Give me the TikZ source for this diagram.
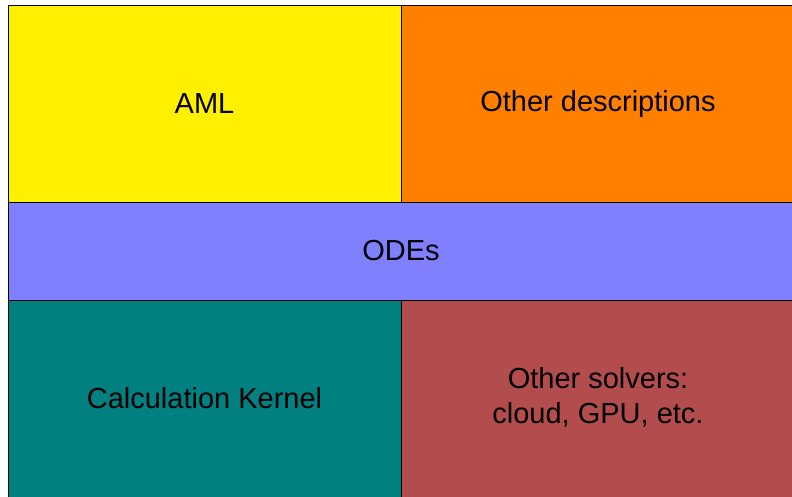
\documentclass[tikz,border=0pt]{standalone}
\usepackage{fontspec}
\setmainfont{Liberation Sans}
\definecolor{cyel}{HTML}{FFF000}
\definecolor{corg}{HTML}{FF8000}
\definecolor{code}{HTML}{8080FF}
\definecolor{cteal}{HTML}{008080}
\definecolor{cred}{HTML}{B34D4D}
\begin{document}
\begin{tikzpicture}[x=1pt,y=-1pt,
  cell/.style={draw=black, line width=0.8pt, inner sep=0pt, font=\fontsize{29}{34}\selectfont, align=center}]
\useasboundingbox (0,0) rectangle (792,496);
\clip (0,0) rectangle (792,496);
\fill[white] (0,0) rectangle (792,496);
\filldraw[cell, fill=cyel] (8,5) rectangle (401,202);
\filldraw[cell, fill=corg] (401,5) rectangle (800,202);
\filldraw[cell, fill=code] (8,202) rectangle (800,300);
\filldraw[cell, fill=cteal] (8,300) rectangle (401,505);
\filldraw[cell, fill=cred] (401,300) rectangle (800,505);
\node[cell, draw=none] (aml) at (204.5,103.5) {AML};
\node[cell, draw=none] (oth) at (598,103.5) {Other descriptions};
\node[cell, draw=none] (ode) at (401,251) {ODEs};
\node[cell, draw=none] (ker) at (204.5,398) {Calculation Kernel};
\node[cell, draw=none] (sol) at (598,397.5) {Other solvers:\\[1pt]cloud, GPU, etc.};
\end{tikzpicture}
\end{document}
